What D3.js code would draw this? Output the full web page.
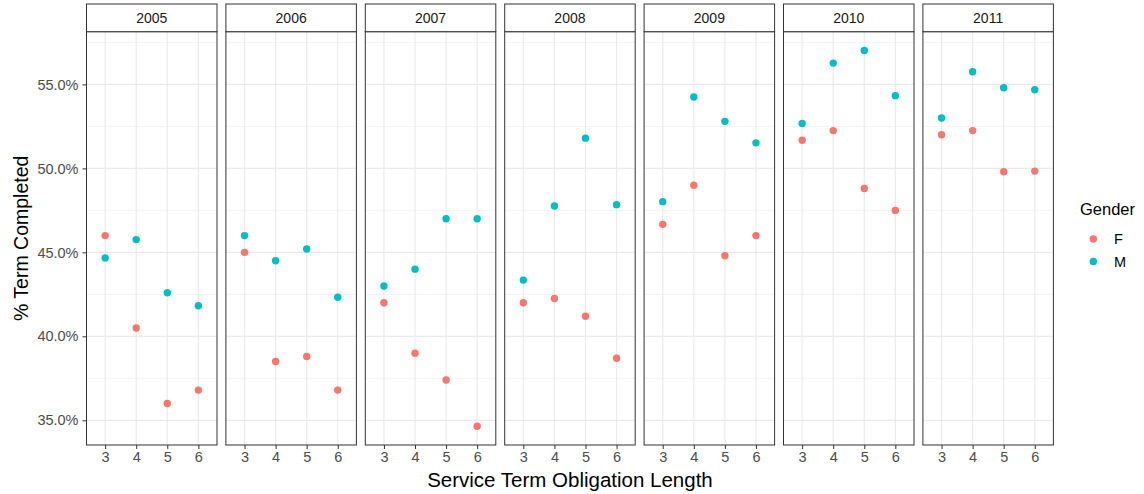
<!DOCTYPE html>
<html>
<head>
<meta charset="utf-8">
<script src="https://cdn.jsdelivr.net/npm/d3@7"></script>
<style>
  html, body { margin: 0; padding: 0; background: #fff; }
  svg { display: block; font-family: "Liberation Sans", Arial, sans-serif; }
</style>
</head>
<body>
<svg id="chart" width="1144" height="494"></svg>
<script>
// Completion rates by service term length, faceted by year
const years = [2005, 2006, 2007, 2008, 2009, 2010, 2011];
const termLengths = [3, 4, 5, 6];
const genders = ["F", "M"];
const genderColors = ["#F8766D", "#00BFC4"];

// % term completed, one row per year, columns = term lengths 3..6
const femaleValues = [
  [46.0, 40.5, 36.0, 36.8],
  [45.0, 38.5, 38.8, 36.8],
  [42.0, 39.0, 37.4, 34.65],
  [42.0, 42.25, 41.2, 38.7],
  [46.67, 49.0, 44.8, 46.0],
  [51.68, 52.25, 48.8, 47.5],
  [52.0, 52.25, 49.8, 49.84]
];
const maleValues = [
  [44.67, 45.76, 42.6, 41.82],
  [46.0, 44.5, 45.2, 42.33],
  [43.0, 44.0, 47.0, 47.0],
  [43.35, 47.76, 51.8, 47.84],
  [48.02, 54.25, 52.8, 51.52],
  [52.67, 56.27, 57.02, 54.33],
  [53.0, 55.75, 54.8, 54.68]
];
const yTickValues = [35, 40, 45, 50, 55];
const yMinorValues = [37.5, 42.5, 47.5, 52.5, 57.5];

const svg = d3.select("#chart");

const panelLeft = 86.5, panelWidth = 130.5, panelGap = 8.9;
const stripTop = 4, stripBottom = 31.7, panelBottom = 445;

const allVals = femaleValues.flat().concat(maleValues.flat());
const vMin = d3.min(allVals), vMax = d3.max(allVals);
const pad = (vMax - vMin) * 0.05;
const y = d3.scaleLinear().domain([vMin - pad, vMax + pad]).range([panelBottom, stripBottom]);

const x = d3.scaleLinear().domain([2.4, 6.6]).range([0, panelWidth]);

const rows = [];
years.forEach((yr, i) => {
  termLengths.forEach((t, j) => {
    rows.push({ year: yr, term: t, gender: "F", value: femaleValues[i][j] });
    rows.push({ year: yr, term: t, gender: "M", value: maleValues[i][j] });
  });
});
const color = d3.scaleOrdinal().domain(genders).range(genderColors);

years.forEach((yr, i) => {
  const g = svg.append("g").attr("transform", `translate(${panelLeft + i * (panelWidth + panelGap)},0)`);

  // minor grid
  g.selectAll(".minor").data(yMinorValues).enter().append("line")
    .attr("x1", 0).attr("x2", panelWidth)
    .attr("y1", d => y(d)).attr("y2", d => y(d))
    .attr("stroke", "#EBEBEB").attr("stroke-width", 0.6);
  // major grid
  g.selectAll(".majorY").data(yTickValues).enter().append("line")
    .attr("x1", 0).attr("x2", panelWidth)
    .attr("y1", d => y(d)).attr("y2", d => y(d))
    .attr("stroke", "#EBEBEB").attr("stroke-width", 1.2);
  g.selectAll(".majorX").data(termLengths).enter().append("line")
    .attr("x1", d => x(d)).attr("x2", d => x(d))
    .attr("y1", stripBottom).attr("y2", panelBottom)
    .attr("stroke", "#EBEBEB").attr("stroke-width", 1.2);

  // points
  g.selectAll("circle").data(rows.filter(r => r.year === yr)).enter().append("circle")
    .attr("cx", d => x(d.term)).attr("cy", d => y(d.value))
    .attr("r", 3.7).attr("fill", d => color(d.gender));

  // panel border
  g.append("rect").attr("x", 0).attr("y", stripBottom)
    .attr("width", panelWidth).attr("height", panelBottom - stripBottom)
    .attr("fill", "none").attr("stroke", "#333333").attr("stroke-width", 1);

  // strip
  g.append("rect").attr("x", 0).attr("y", stripTop)
    .attr("width", panelWidth).attr("height", stripBottom - stripTop)
    .attr("fill", "#fff").attr("stroke", "#333333").attr("stroke-width", 1);
  g.append("text").attr("x", panelWidth / 2).attr("y", (stripTop + stripBottom) / 2 + 5)
    .attr("text-anchor", "middle").attr("font-size", "14px").attr("fill", "#1A1A1A")
    .text(yr);

  // x axis
  const xAxis = d3.axisBottom(x).tickValues(termLengths).tickSize(4).tickPadding(3).tickFormat(d3.format("d"));
  const ax = g.append("g").attr("transform", `translate(0,${panelBottom})`).call(xAxis);
  ax.select(".domain").remove();
  ax.selectAll("line").attr("stroke", "#333333");
  ax.selectAll("text").attr("font-size", "14.5px").attr("fill", "#4D4D4D")
    .attr("font-family", "Liberation Sans, Arial, sans-serif");
});

// y axis on the first panel
const yAxis = d3.axisLeft(y).tickValues(yTickValues).tickSize(4).tickPadding(4)
  .tickFormat(d => d3.format(".1f")(d) + "%");
const ay = svg.append("g").attr("transform", `translate(${panelLeft},0)`).call(yAxis);
ay.select(".domain").remove();
ay.selectAll("line").attr("stroke", "#333333");
ay.selectAll("text").attr("font-size", "14.5px").attr("fill", "#4D4D4D")
  .attr("font-family", "Liberation Sans, Arial, sans-serif");

// axis titles
const totalRight = panelLeft + years.length * panelWidth + (years.length - 1) * panelGap;
svg.append("text").attr("x", (panelLeft + totalRight) / 2).attr("y", 487)
  .attr("text-anchor", "middle").attr("font-size", "20.5px").attr("fill", "#000")
  .text("Service Term Obligation Length");
svg.append("text")
  .attr("transform", `translate(28,${(stripBottom + panelBottom) / 2}) rotate(-90)`)
  .attr("text-anchor", "middle").attr("font-size", "19.5px").attr("fill", "#000")
  .text("% Term Completed");

// legend
const lg = svg.append("g");
lg.append("text").attr("x", 1080).attr("y", 215).attr("font-size", "16.5px").attr("fill", "#000").text("Gender");
genders.forEach((gname, i) => {
  const cy = 239 + i * 22.5;
  lg.append("circle").attr("cx", 1093.3).attr("cy", cy).attr("r", 3.7).attr("fill", color(gname));
  lg.append("text").attr("x", 1114).attr("y", cy + 5).attr("font-size", "14.5px").attr("fill", "#000").text(gname);
});
</script>
</body>
</html>
